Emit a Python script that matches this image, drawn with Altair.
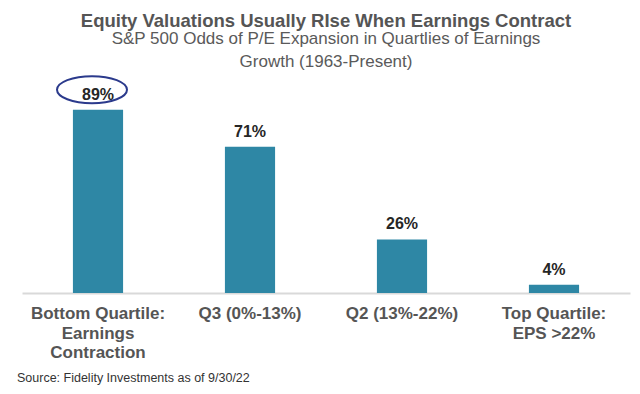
import altair as alt
import pandas as pd

categories = ["Bottom Quartile:|Earnings|Contraction", "Q3 (0%-13%)", "Q2 (13%-22%)", "Top Quartile:|EPS >22%"]
values = [89, 71, 26, 4]
labels = ["89%", "71%", "26%", "4%"]
highlight = [True, False, False, False]

df = pd.DataFrame({"cat": categories, "value": values, "label": labels, "hl": highlight})

FONT = "Liberation Sans"

base = alt.Chart(df).encode(
    x=alt.X(
        "cat:N",
        sort=categories,
        scale=alt.Scale(paddingInner=0.67, paddingOuter=0.335),
        axis=alt.Axis(
            title="Source: Fidelity Investments as of 9/30/22",
            labelExpr="split(datum.label, '|')",
            labelAngle=0,
            labelFont=FONT,
            labelFontSize=17,
            labelFontWeight="bold",
            labelColor="#555555",
            labelLineHeight=19.5,
            labelPadding=12.5,
            ticks=False,
            domainColor="#d9d9d9",
            domainWidth=2,
            titleAnchor="start",
            titleAlign="left",
            titleBaseline="middle",
            titleX=-5.5,
            titleY=84,
            titleFont=FONT,
            titleFontSize=12.5,
            titleFontWeight="normal",
            titleColor="#333333",
        ),
    ),
    y=alt.Y("value:Q", scale=alt.Scale(domain=[0, 100]), axis=None),
)

bars = base.mark_bar(color="#2e87a5")

text = base.mark_text(dy=-15, fontSize=16, fontWeight="bold", color="#262626", font=FONT).encode(
    text="label:N"
)

ellipse = base.transform_filter("datum.hl").mark_point(
    shape="M -1 0 A 1 0.386 0 1 0 1 0 A 1 0.386 0 1 0 -1 0 Z",
    size=4900,
    filled=False,
    stroke="#2b3a8c",
    strokeWidth=2,
    opacity=1,
    xOffset=-6,
    yOffset=-20,
)

chart = (
    alt.layer(bars, text, ellipse)
    .properties(
        width=608,
        height=206,
        autosize=alt.AutoSizeParams(type="none"),
        padding={"left": 14, "top": 79, "right": 2, "bottom": 93},
        title=alt.TitleParams(
            text="Equity Valuations Usually RIse When Earnings Contract",
            subtitle=["S&P 500 Odds of P/E Expansion in Quartlies of Earnings", "Growth (1963-Present)"],
            anchor="middle",
            font=FONT,
            fontSize=18.5,
            fontWeight="bold",
            color="#555555",
            subtitleFont=FONT,
            subtitleFontSize=17,
            subtitleColor="#5a5a5a",
            subtitleLineHeight=23,
            subtitlePadding=1,
            offset=2,
        ),
    )
    .configure_view(stroke=None)
)

chart.save("out.html", embed_options={"renderer": "svg", "actions": False})
